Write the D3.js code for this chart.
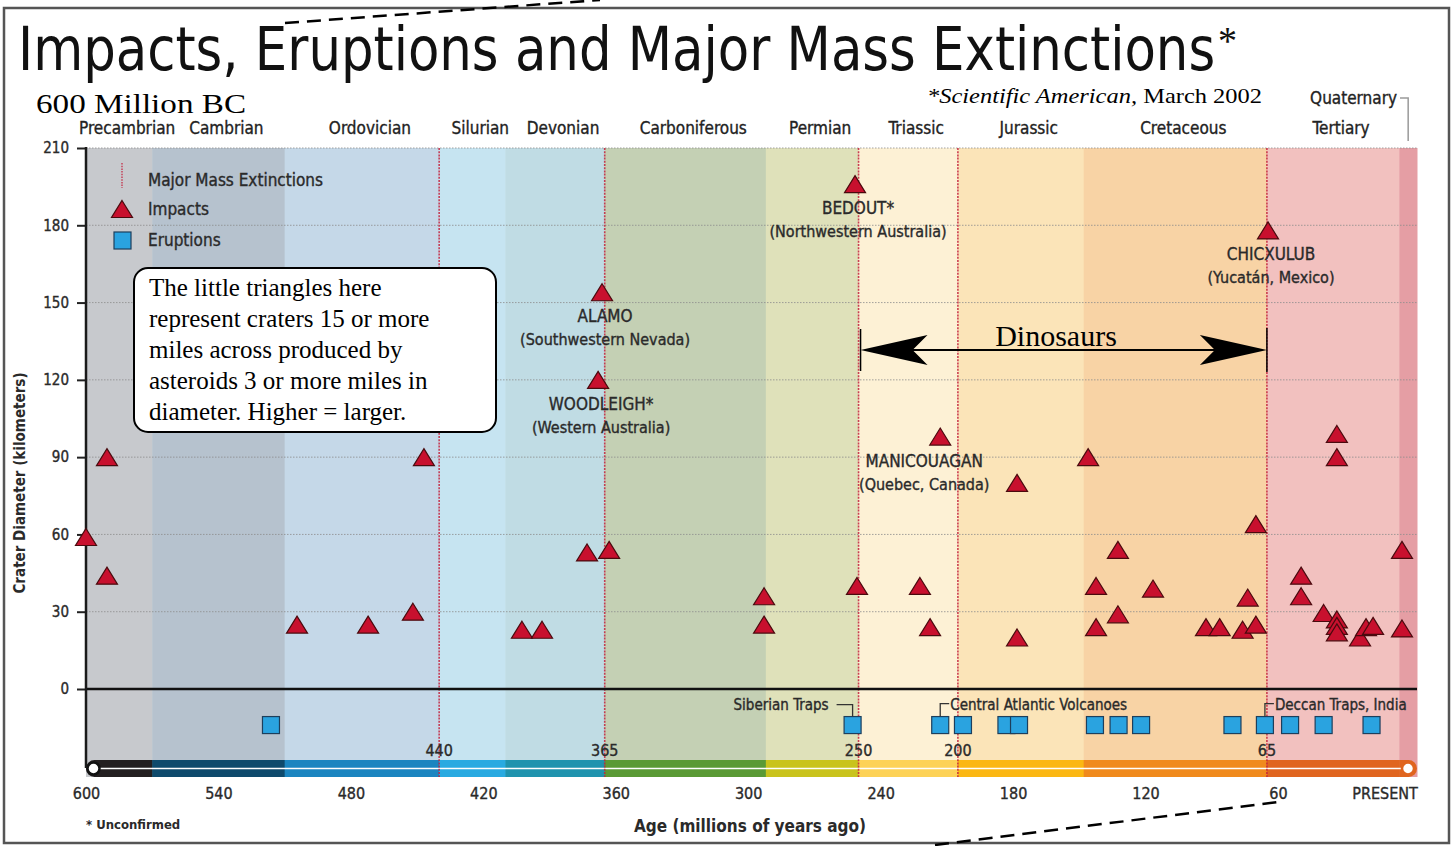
<!DOCTYPE html>
<html><head><meta charset="utf-8">
<script src="https://cdn.jsdelivr.net/npm/d3@7"></script>
<style>
body{margin:0;background:#fff;}
svg{display:block;}
.lbl{stroke:#2a2a2a;stroke-width:0.35px;paint-order:stroke;}
</style></head><body>
<svg id="chart" width="1453" height="846"></svg>
<script>
// ---------------- DATA ----------------
const periodNames = ["Precambrian","Cambrian","Ordovician","Silurian","Devonian","Carboniferous","Permian","Triassic","Jurassic","Cretaceous","Tertiary","Quaternary"];
const periodStart = [600,570,510,440,410,365,292,250,205,148,65,5];
const periodEnd   = [570,510,440,410,365,292,250,205,148,65,5,-3];
const periodBg  = ["#c7c9cd","#b6c2ce","#c5d8e8","#c6e4f1","#c0dce4","#c4d0b4","#dfe1ba","#fdf1d5","#fbe4b8","#f8d3a5","#f2c1bf","#e59ea4"];
const periodBar = ["#231f20","#0e4a6c","#1b85c0","#29aae1","#1f93ae","#5a9a35","#c9c31c","#fdd257","#fbb713","#f08a1d","#e0651f","#e0651f"];

const extinctionAges   = [440,365,250,205,65];
const extinctionLabels = ["440","365","250","200","65"];

const impactAge = [600,590.5,590.5,504.4,472.2,451.9,446.9,402.5,393.4,373,363,366.2,368,292.8,292.8,251.6,250.7,222.2,217.6,213,178.2,178.2,146,142.4,142.4,132.5,132.5,116.6,92.6,86.4,73.7,76,70,70,64.5,49.5,49.5,39.3,33.3,33.3,33.3,33.3,33.3,22.8,20.1,16.9,3.8,3.8];
const impactDiameter = [59,90,44,25,25,30,90,23,23,53,54,154,120,36,25,196,40,40,24,98,80,20,90,40,24,54,29,39,24,24,35.5,23,64,25,178,44,36,29.5,99,90,27,24.5,22,20,24,24.5,54,23.5];

const namedImpactAge   = [251.6,366.2,368,213,64.5];
const namedImpactDiam  = [196,154,120,98,178];
const namedImpactName  = ["BEDOUT*","ALAMO","WOODLEIGH*","MANICOUAGAN","CHICXULUB"];
const namedImpactPlace = ["(Northwestern Australia)","(Southwestern Nevada)","(Western Australia)","(Quebec, Canada)","(Yucatán, Mexico)"];

const eruptionAge = [516.2,252.7,213,202.7,183,177.3,142.9,132.2,122,80.6,65.9,54.5,39.3,17.6];
const eruptionLevel = -14;
const eruptionNames = ["Siberian Traps","Central Atlantic Volcanoes","Deccan Traps, India"];
const eruptionNamedAge = [252.7,213,65.9];

const yTicks = [0,30,60,90,120,150,180,210];
const xTickValues = [600,540,480,420,360,300,240,180,120,60,0];
const xTickLabels = ["600","540","480","420","360","300","240","180","120","60","PRESENT"];

const noteLines = ["The little triangles here","represent craters 15 or more","miles across produced by","asteroids 3 or more miles in","diameter. Higher = larger."];
const dinoSpan = [250,65];

// ---------------- DRAW ----------------
const svg = d3.select("#chart");
const COND = "'Liberation Sans Narrow','DejaVu Sans Condensed','Arial Narrow',sans-serif";
const SERIF = "'Liberation Serif','DejaVu Serif',serif";

const x = d3.scaleLinear().domain([600,-3]).range([86,1417]);
const y = d3.scaleLinear().domain([0,210]).range([689,148]);
const plotTop = y(210), barTop = 760, barBot = 777;

// frame
svg.append("rect").attr("x",4).attr("y",8).attr("width",1445).attr("height",835)
  .attr("fill","#fff").attr("stroke","#555").attr("stroke-width",2.5);

// period backgrounds
const periods = periodNames.map((n,i)=>({n,s:periodStart[i],e:periodEnd[i],bg:periodBg[i],bar:periodBar[i]}));
svg.append("g").selectAll("rect").data(periods).join("rect")
  .attr("x",d=>x(d.s)).attr("width",d=>x(d.e)-x(d.s)+0.5)
  .attr("y",plotTop).attr("height",barBot-plotTop)
  .attr("fill",d=>d.bg);

// gridlines
svg.append("g").selectAll("line").data(yTicks.filter(t=>t>0)).join("line")
  .attr("x1",x(600)).attr("x2",x(-3)).attr("y1",d=>y(d)).attr("y2",d=>y(d))
  .attr("stroke","#8d8d8d").attr("stroke-width",1).attr("stroke-dasharray","1.5,1.5").attr("opacity",0.8);

// timeline bar
const defs = svg.append("defs");
defs.append("clipPath").attr("id","barclip").append("rect")
  .attr("x",x(600)).attr("y",barTop).attr("width",x(-3)-x(600)).attr("height",barBot-barTop).attr("rx",8.5);
svg.append("g").attr("clip-path","url(#barclip)").selectAll("rect").data(periods).join("rect")
  .attr("x",d=>x(d.s)).attr("width",d=>x(d.e)-x(d.s)+0.5)
  .attr("y",barTop).attr("height",barBot-barTop).attr("fill",d=>d.bar);
svg.append("line").attr("x1",x(600)+7).attr("x2",x(-3)-9).attr("y1",768.5).attr("y2",768.5)
  .attr("stroke","#fff").attr("stroke-width",1.6);
svg.append("circle").attr("cx",x(600)+7.5).attr("cy",768.5).attr("r",6).attr("fill","#fff").attr("stroke","#111").attr("stroke-width",2.5);
svg.append("circle").attr("cx",x(-3)-9).attr("cy",768.5).attr("r",6).attr("fill","#fff").attr("stroke","#e0651f").attr("stroke-width",2.5);

// extinction lines
svg.append("g").selectAll("line").data(extinctionAges).join("line")
  .attr("x1",d=>x(d)).attr("x2",d=>x(d)).attr("y1",plotTop).attr("y2",barBot)
  .attr("stroke","#c4213c").attr("stroke-width",1.6).attr("stroke-dasharray","2,1.2").attr("opacity",0.85);
svg.append("g").selectAll("text").data(extinctionAges).join("text").attr("class","lbl")
  .attr("x",d=>x(d)).attr("y",756).attr("text-anchor","middle")
  .attr("font-family",COND).attr("font-size",16).attr("fill","#2a2a2a")
  .text((d,i)=>extinctionLabels[i]);

// zero line
svg.append("line").attr("x1",x(600)).attr("x2",x(-3)).attr("y1",y(0)).attr("y2",y(0))
  .attr("stroke","#111").attr("stroke-width",2.5);

// y axis
const yAxis = svg.append("g").attr("transform",`translate(${x(600)},0)`)
  .call(d3.axisLeft(y).tickValues(yTicks).tickSize(9).tickPadding(8));
yAxis.select(".domain").remove();
yAxis.selectAll(".tick line").attr("stroke","#222").attr("stroke-width",2);
yAxis.selectAll(".tick text").attr("class","lbl").attr("font-family",COND).attr("font-size",15).attr("fill","#2a2a2a");
svg.append("line").attr("x1",x(600)).attr("x2",x(600)).attr("y1",plotTop-1).attr("y2",768)
  .attr("stroke","#1a1a1a").attr("stroke-width",2.5);

// x axis labels
const xAxis = svg.append("g").attr("transform",`translate(0,784)`)
  .call(d3.axisBottom(x).tickValues(xTickValues).tickSize(0).tickPadding(0).tickFormat((d,i)=>xTickLabels[i]));
xAxis.select(".domain").remove();
xAxis.selectAll(".tick text").attr("class","lbl").attr("font-family",COND).attr("font-size",16).attr("fill","#2a2a2a").attr("dy","0.95em");
xAxis.selectAll(".tick text").filter((d)=>d===0).attr("text-anchor","end").attr("dx",7);

// axis titles
svg.append("text").attr("transform",`translate(25,483) rotate(-90)`).attr("text-anchor","middle")
  .attr("font-family",COND).attr("font-size",15).attr("font-weight","bold").attr("fill","#2a2a2a")
  .text("Crater Diameter (kilometers)");
svg.append("text").attr("x",750).attr("y",832).attr("text-anchor","middle")
  .attr("font-family",COND).attr("font-size",17).attr("font-weight","bold").attr("fill","#2a2a2a")
  .text("Age (millions of years ago)");
svg.append("text").attr("x",86).attr("y",829)
  .attr("font-family",COND).attr("font-size",13).attr("font-weight","bold").attr("fill","#2a2a2a")
  .text("* Unconfirmed");

// period labels
svg.append("g").selectAll("text").data(periods.filter(p=>p.n!=="Quaternary")).join("text").attr("class","lbl")
  .attr("x",d=>(x(d.s)+x(d.e))/2+8).attr("y",134).attr("text-anchor","middle")
  .attr("font-family",COND).attr("font-size",17).attr("fill","#222").text(d=>d.n);
svg.append("text").attr("class","lbl").attr("x",1397).attr("y",104).attr("text-anchor","end")
  .attr("font-family",COND).attr("font-size",17).attr("fill","#222").text("Quaternary");
svg.append("path").attr("d",`M1400,98 H${x(1)} V141`).attr("fill","none").attr("stroke","#9a9a9a").attr("stroke-width",1.5);

// triangles
const tri = "M0,-8.5L10.5,8.5L-10.5,8.5Z";
svg.append("g").selectAll("path").data(impactAge.map((a,i)=>[a,impactDiameter[i]])).join("path")
  .attr("d",tri).attr("transform",d=>`translate(${x(d[0])},${y(d[1])})`)
  .attr("fill","#c8102e").attr("stroke","#4a0a0e").attr("stroke-width",1.2);

// named impact labels
namedImpactName.forEach((n,i)=>{
  const cx = x(namedImpactAge[i]) + (n==="MANICOUAGAN" ? -16 : 3);
  const cy = y(namedImpactDiam[i]);
  svg.append("text").attr("class","lbl").attr("x",cx).attr("y",cy+30).attr("text-anchor","middle")
    .attr("font-family",COND).attr("font-size",17).attr("fill","#2a2a2a").text(n);
  svg.append("text").attr("class","lbl").attr("x",cx).attr("y",cy+53).attr("text-anchor","middle")
    .attr("font-family",COND).attr("font-size",16).attr("fill","#2a2a2a").text(namedImpactPlace[i]);
});

// eruptions
svg.append("g").selectAll("rect").data(eruptionAge).join("rect")
  .attr("x",d=>x(d)-8.5).attr("y",y(eruptionLevel)-8.5).attr("width",17).attr("height",17)
  .attr("fill","#2aa3e0").attr("stroke","#1d3f5c").attr("stroke-width",1.2);
const ey = y(eruptionLevel)-8.5;
{
  const ex = x(eruptionNamedAge[0]);
  svg.append("path").attr("d",`M${ex-16},${ey-12} H${ex} V${ey}`).attr("fill","none").attr("stroke","#333").attr("stroke-width",1.3);
  svg.append("text").attr("class","lbl").attr("x",ex-24).attr("y",ey-7).attr("text-anchor","end")
    .attr("font-family",COND).attr("font-size",15).attr("fill","#2a2a2a").text(eruptionNames[0]);
}
[1,2].forEach(k=>{
  const ex = x(eruptionNamedAge[k]);
  svg.append("path").attr("d",`M${ex},${ey} V${ey-13} H${ex+9}`).attr("fill","none").attr("stroke","#333").attr("stroke-width",1.3);
  svg.append("text").attr("class","lbl").attr("x",ex+10).attr("y",ey-7)
    .attr("font-family",COND).attr("font-size",15).attr("fill","#2a2a2a").text(eruptionNames[k]);
});

// legend
svg.append("line").attr("x1",122).attr("x2",122).attr("y1",163).attr("y2",188)
  .attr("stroke","#c4213c").attr("stroke-width",1.2).attr("stroke-dasharray","1.5,1.2");
svg.append("path").attr("d",tri).attr("transform","translate(122,209)")
  .attr("fill","#c8102e").attr("stroke","#4a0a0e").attr("stroke-width",1.2);
svg.append("rect").attr("x",114).attr("y",232).attr("width",17).attr("height",17)
  .attr("fill","#2aa3e0").attr("stroke","#1d3f5c").attr("stroke-width",1.2);
[["Major Mass Extinctions",186],["Impacts",215],["Eruptions",246]].forEach(([t,yy])=>{
  svg.append("text").attr("class","lbl").attr("x",148).attr("y",yy).attr("font-family",COND).attr("font-size",17).attr("fill","#2a2a2a").text(t);
});

// annotation box
svg.append("rect").attr("x",134).attr("y",268).attr("width",362).attr("height",164).attr("rx",14)
  .attr("fill","#fff").attr("stroke","#000").attr("stroke-width",2);
noteLines.forEach((t,i)=>{
  svg.append("text").attr("x",149).attr("y",296+i*31).attr("font-family",SERIF).attr("font-size",25).attr("fill","#000").text(t);
});

// dinosaurs arrow
{
  const x1 = x(dinoSpan[0])+2, x2 = x(dinoSpan[1]), ay = 350;
  svg.append("line").attr("x1",x1+20).attr("x2",x2-20).attr("y1",ay).attr("y2",ay).attr("stroke","#000").attr("stroke-width",2);
  svg.append("path").attr("d",`M${x1},${ay} L${x1+67},${ay-15} L${x1+52},${ay} L${x1+67},${ay+15} Z`).attr("fill","#000");
  svg.append("path").attr("d",`M${x2},${ay} L${x2-67},${ay-15} L${x2-52},${ay} L${x2-67},${ay+15} Z`).attr("fill","#000");
  svg.append("line").attr("x1",x1).attr("x2",x1).attr("y1",ay-21).attr("y2",ay+21).attr("stroke","#000").attr("stroke-width",1.5);
  svg.append("line").attr("x1",x2).attr("x2",x2).attr("y1",ay-22).attr("y2",ay+22).attr("stroke","#000").attr("stroke-width",1.5);
  svg.append("text").attr("x",1056).attr("y",346).attr("text-anchor","middle").attr("font-family",SERIF).attr("font-size",30).text("Dinosaurs");
}

// titles
const tt = svg.append("text").attr("x",18).attr("y",70).attr("font-family",COND).attr("font-size",60)
  .attr("fill","#111").attr("textLength",1219).attr("lengthAdjust","spacingAndGlyphs");
tt.append("tspan").text("Impacts, Eruptions and Major Mass Extinctions");
tt.append("tspan").attr("font-family",SERIF).attr("font-size",40).attr("dx",3).attr("dy",-16).text("*");
svg.append("text").attr("x",36).attr("y",113).attr("font-family",SERIF).attr("font-size",27)
  .attr("textLength",210).attr("lengthAdjust","spacingAndGlyphs").text("600 Million BC");
const sa = svg.append("text").attr("x",927).attr("y",103).attr("font-family",SERIF).attr("font-size",22)
  .attr("textLength",335).attr("lengthAdjust","spacingAndGlyphs");
sa.append("tspan").attr("font-style","italic").text("*Scientific American,");
sa.append("tspan").text(" March 2002");

// dashed zoom lines
svg.append("line").attr("x1",285).attr("y1",23).attr("x2",600).attr("y2",0)
  .attr("stroke","#000").attr("stroke-width",2.5).attr("stroke-dasharray","14,8");
svg.append("line").attr("x1",935).attr("y1",845).attr("x2",1278).attr("y2",802)
  .attr("stroke","#000").attr("stroke-width",2.5).attr("stroke-dasharray","14,8");
</script>
</body></html>
